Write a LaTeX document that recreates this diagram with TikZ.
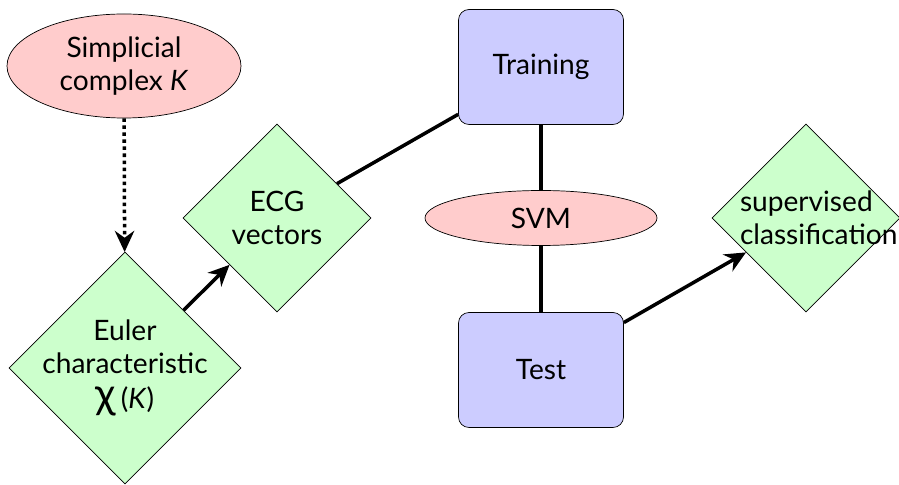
\documentclass[tikz,border=0pt]{standalone}
\usepackage{fontspec}
\setmainfont{Lato}
\usepackage{tikz}
\usetikzlibrary{shapes}
\usetikzlibrary{arrows}
\usetikzlibrary{arrows.meta}
\usetikzlibrary{positioning}

\begin{document}
\begin{tikzpicture}[
        datanode/.style={ellipse, draw, fill=red!20, align=center, inner sep=0pt},
        stepnode/.style={diamond, draw, fill=green!20, align=center, inner sep=0pt, aspect=1},
        phasenode/.style={rectangle, rounded corners=6pt, draw, fill=blue!20, minimum width=3.3cm, minimum height=2.3cm},
        link/.style={line width=2pt},
        tip/.style={-{Stealth[length=12pt, width=11pt]}},
        font=\fontsize{16}{19}\selectfont
    ]
        \useasboundingbox (0, 0) rectangle (17.98, 9.70);

        \node[datanode, minimum width=4.68cm, minimum height=2.08cm] (simplicial) at (2.48, 8.38) {Simplicial\\complex \textit{K}};
        \node[stepnode, inner sep=-4.5pt, minimum width=4.64cm, minimum height=4.64cm] (euler) at (2.50, 2.34) {Euler\\characteristic\\[1pt]{\fontsize{24}{24}\selectfont χ}\,(\textit{K})};
        \node[stepnode, minimum width=3.76cm, minimum height=3.76cm] (ecg) at (5.54, 5.34) {ECG\\vectors};
        \node[phasenode] (training) at (10.82, 8.36) {Training};
        \node[datanode, minimum width=4.64cm, minimum height=1.10cm] (svm) at (10.82, 5.34) {SVM};
        \node[phasenode] (test) at (10.82, 2.30) {Test};
        \node[stepnode, minimum width=3.76cm, minimum height=3.76cm, text width=2.64cm] (supervised) at (16.12, 5.34) {supervised\\classification};

        \draw[link, dotted, tip] (simplicial) -- (euler);
        \draw[link, tip] (euler) -- (ecg);
        \draw[link] (ecg) -- (training);
        \draw[link] (training) -- (svm);
        \draw[link] (svm) -- (test);
        \draw[link, tip] (test) -- (supervised);
    \end{tikzpicture}
\end{document}
